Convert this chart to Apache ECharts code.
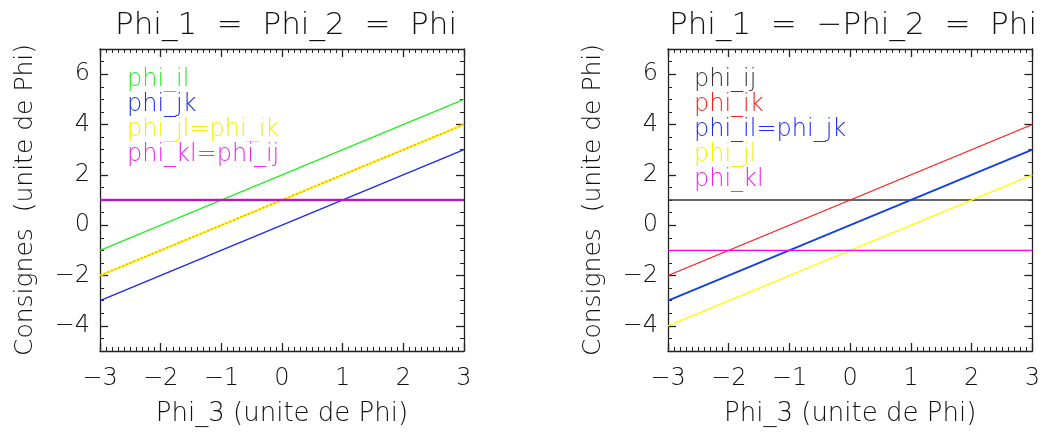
<!DOCTYPE html>
<html>
<head>
<meta charset="utf-8">
<script src="https://cdn.jsdelivr.net/npm/echarts@6/dist/echarts.min.js"></script>
<style>html,body{margin:0;padding:0;background:#fff}#c{width:1043px;height:432px}</style>
</head>
<body>
<div id="c"></div>
<script>
// ---- data ----
const xValues = [-3, 3];
// left panel: Phi_1 = Phi_2 = Phi
const leftPhiIl = [-1, 5];
const leftPhiJk = [-3, 3];
const leftPhiJlIk = [-2, 4];
const leftPhiKlIj = [1, 1];
// right panel: Phi_1 = -Phi_2 = Phi
const rightPhiIj = [1, 1];
const rightPhiIk = [-2, 4];
const rightPhiIlJk = [-3, 3];
const rightPhiJl = [-4, 2];
const rightPhiKl = [-1, -1];
// ticks
const xTicks = [-3, -2, -1, 0, 1, 2, 3];
const yMajorTicks = [-4, -2, 0, 2, 4, 6];
const titles = ['Phi_1  =  Phi_2  =  Phi', 'Phi_1  =  \u2212Phi_2  =  Phi'];
const xName = 'Phi_3 (unite de Phi)';
const yName = 'Consignes  (unite de Phi)';

const pts = ys => xValues.map((x, i) => [x, ys[i]]);
const FONT = 'DejaVu Sans';
const TXT = '#111111';
const FW = 300;
const fmt = v => (v < 0 ? '\u2212' + Math.abs(v) : String(v));

const grids = [
  { left: 100, top: 49, width: 364, height: 305 },
  { left: 668, top: 49, width: 365, height: 305 }
];

const xAxes = [], yAxes = [];
grids.forEach((g, gi) => {
  xAxes.push({
    gridIndex: gi, type: 'value', min: xTicks[0], max: xTicks[xTicks.length - 1], interval: 1,
    position: 'bottom',
    name: xName, nameLocation: 'middle', nameGap: 50,
    nameTextStyle: { fontFamily: FONT, fontSize: 26, color: TXT, fontWeight: FW },
    axisLine: { show: true, onZero: false, lineStyle: { color: '#222', width: 1.3 } },
    axisTick: { show: true, inside: true, length: 8, lineStyle: { color: '#222', width: 1.3 } },
    minorTick: { show: true, splitNumber: 10, length: 4, lineStyle: { color: '#222', width: 1 } },
    axisLabel: { fontFamily: FONT, fontSize: 24, color: TXT, fontWeight: FW, margin: 16, formatter: fmt },
    splitLine: { show: false }, minorSplitLine: { show: false }
  });
  xAxes.push({
    gridIndex: gi, type: 'value', min: xTicks[0], max: xTicks[xTicks.length - 1], interval: 1,
    position: 'top',
    axisLine: { show: true, onZero: false, lineStyle: { color: '#222', width: 1.3 } },
    axisTick: { show: true, inside: true, length: 8, lineStyle: { color: '#222', width: 1.3 } },
    minorTick: { show: true, splitNumber: 10, length: 4, lineStyle: { color: '#222', width: 1 } },
    axisLabel: { show: false }, splitLine: { show: false }
  });
  ['left', 'right'].forEach(pos => {
    yAxes.push({
      gridIndex: gi, type: 'value', min: -5, max: 7, position: pos,
      name: pos === 'left' ? yName : '', nameLocation: 'middle', nameGap: 62,
      nameTextStyle: { fontFamily: FONT, fontSize: 25, color: TXT, fontWeight: FW },
      axisLine: { show: true, onZero: false, lineStyle: { color: '#222', width: 1.3 } },
      axisTick: { show: true, inside: true, length: 8, customValues: yMajorTicks, lineStyle: { color: '#222', width: 1.3 } },
      axisLabel: { show: pos === 'left', customValues: yMajorTicks, fontFamily: FONT, fontSize: 24, fontWeight: FW, color: TXT, margin: 10, formatter: fmt },
      splitLine: { show: false }
    });
    yAxes.push({
      gridIndex: gi, type: 'value', min: -5, max: 7, interval: 0.5, position: pos,
      axisLine: { show: false, onZero: false },
      axisTick: { show: true, inside: true, length: 4, lineStyle: { color: '#222', width: 1 } },
      axisLabel: { show: false }, splitLine: { show: false }
    });
  });
});

function line(name, data, gi, color, width, type) {
  return {
    name, type: 'line', data: pts(data), xAxisIndex: gi * 2, yAxisIndex: gi * 4,
    showSymbol: false, silent: true, animation: false,
    lineStyle: { color, width, type: type || 'solid' }, itemStyle: { color }
  };
}

const series = [
  line('phi_il', leftPhiIl, 0, '#22ee22', 1.3),
  line('phi_jk', leftPhiJk, 0, '#1a2aee', 1.3),
  line('phi_jl=phi_ik', leftPhiJlIk, 0, '#ffff00', 2),
  line('phi_ik (L)', leftPhiJlIk, 0, '#ffa500', 1.5, [2, 2]),
  line('phi_kl=phi_ij', leftPhiKlIj, 0, '#e020e0', 2.6),
  line('phi_ij (L)', leftPhiKlIj, 0, '#9a1fa6', 1.6),
  line('phi_ij', rightPhiIj, 1, '#333333', 1.3),
  line('phi_ik', rightPhiIk, 1, '#ff1a1a', 1.3),
  line('phi_il=phi_jk', rightPhiIlJk, 1, '#1040e0', 1.8),
  line('phi_jl', rightPhiJl, 1, '#ffff00', 1.3),
  line('phi_kl', rightPhiKl, 1, '#ff00ff', 1.3)
];

function legend(left, items) {
  return {
    left, top: 67, orient: 'vertical', padding: 0, itemGap: 0,
    itemWidth: 0, itemHeight: 0, icon: 'none', selectedMode: false,
    textStyle: { fontFamily: FONT, fontSize: 24, fontWeight: FW, lineHeight: 25, padding: [0, 0, 0, -5] },
    data: items.map(([name, color]) => ({ name, textStyle: { color } }))
  };
}

const option = {
  animation: false,
  backgroundColor: '#fff',
  title: titles.map((t, i) => ({
    text: t, left: i === 0 ? 281 : 848, top: 5, textAlign: 'center',
    textStyle: { fontFamily: FONT, fontSize: 31, fontWeight: FW, color: TXT }
  })),
  grid: grids,
  xAxis: xAxes,
  yAxis: yAxes,
  legend: [
    legend(127, [['phi_il', '#22ee22'], ['phi_jk', '#1a2aee'], ['phi_jl=phi_ik', '#f2f200'], ['phi_kl=phi_ij', '#ee22ee']]),
    legend(694, [['phi_ij', '#333333'], ['phi_ik', '#ff1a1a'], ['phi_il=phi_jk', '#1a2aee'], ['phi_jl', '#f2f200'], ['phi_kl', '#ee22ee']])
  ],
  series
};
const chart = echarts.init(document.getElementById('c'), null, { renderer: 'canvas' });
chart.setOption(option);
</script>
</body>
</html>
